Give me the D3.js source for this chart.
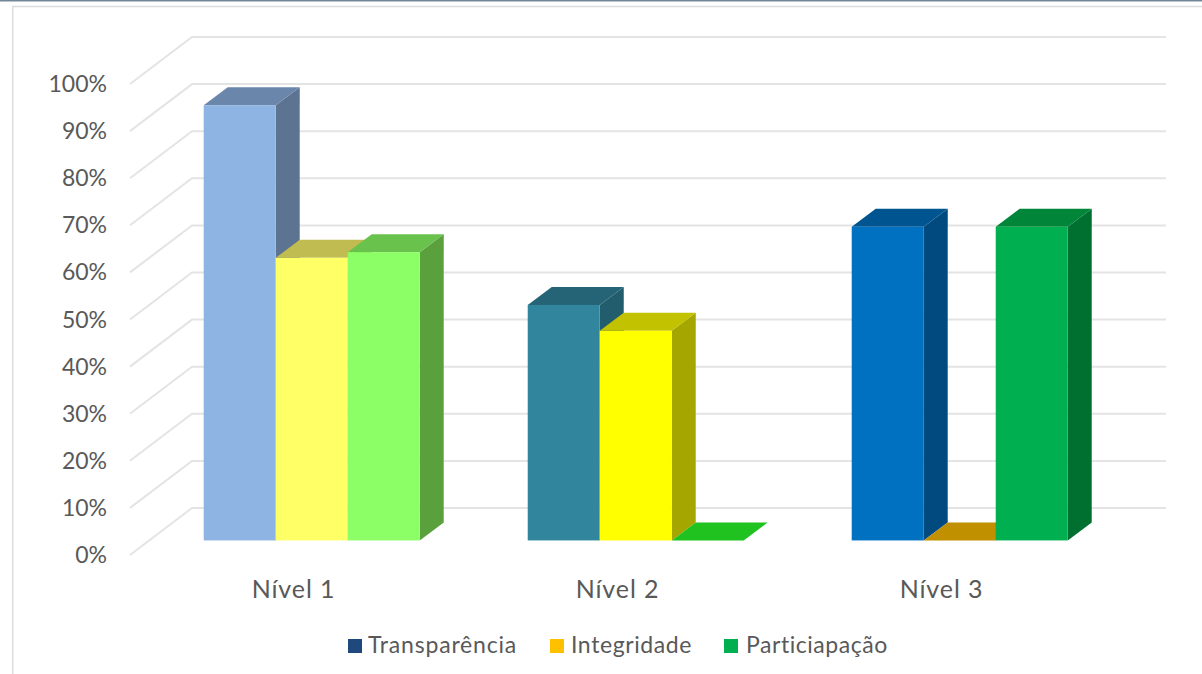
<!DOCTYPE html>
<html>
<head>
<meta charset="utf-8">
<script src="https://cdn.jsdelivr.net/npm/d3@7"></script>
<style>
  html, body { margin: 0; padding: 0; background: #fff; }
  svg { display: block; }
  text { font-family: Lato, "Open Sans", sans-serif; fill: #595959; }
</style>
</head>
<body>
<section></section>
<script>
//Chart data
const levels = ["Nível 1", "Nível 2", "Nível 3"];
const series = ["Transparência", "Integridade", "Particiapação"];
const transparencia = [92.4, 50, 66.6];
const integridade = [60, 44.5, 0];
const participacao = [61.2, 0, 66.6];
const yTicks = [0, 10, 20, 30, 40, 50, 60, 70, 80, 90, 100];

//Colors, one row per level
const legendColors = ["#1f497d", "#ffc000", "#00b050"];
const frontColors = [
  ["#8db4e2", "#ffff66", "#8cff66"],
  ["#31859c", "#ffff00", "#1fc21f"],
  ["#0070c0", "#c09000", "#00b050"],
];
const topColors = [
  ["#6a86ab", "#c1bc51", "#69c24c"],
  ["#256476", "#c2c200", "#1fc21f"],
  ["#005591", "#c09000", "#008539"],
];
const sideColors = [
  ["#5c7391", "#a6a33f", "#5aa03c"],
  ["#225d6d", "#a6a600", "#1fc21f"],
  ["#004a80", "#c09000", "#007030"],
];

const w = 1202;
const h = 674;

//Front edge of the floor, and how far the back wall is shifted from it
const left = 130;
const right = 1102;
const yBottom = 555;
const yTop = 84;
const wallDx = 62;
const wallDy = 47;

//Bars stand in the middle of the floor depth
const barFront = 0.31;
const barDx = 24;
const barDy = 18;

const values = [transparencia, integridade, participacao];

const svg = d3.select("section").append("svg").attr("width", w).attr("height", h);

const xScale = d3.scaleBand().domain(levels).range([left, right]);
const barScale = d3
  .scaleBand()
  .domain(series)
  .range([0, xScale.bandwidth()])
  .paddingInner(0)
  .paddingOuter(0.75);
const yScale = d3.scaleLinear().domain([0, 100]).range([yBottom, yTop]);

//Chart frame
svg.append("rect").attr("width", w).attr("height", 1.5).attr("fill", "#72879a");
svg
  .append("path")
  .attr("d", d3.line()([[12.7, h], [12.7, 6.5], [w, 6.5]]))
  .attr("fill", "none")
  .attr("stroke", "#dcdcdc")
  .attr("stroke-width", 1.5);

//Gridlines on the side wall and back wall
const grid = svg.append("g").attr("fill", "none").attr("stroke", "#e4e4e4").attr("stroke-width", 2);
grid
  .selectAll("path")
  .data(yTicks)
  .enter()
  .append("path")
  .attr("d", (d) =>
    d3.line()([
      [left, yScale(d)],
      [left + wallDx, yScale(d) - wallDy],
      [right + wallDx + 2, yScale(d) - wallDy],
    ])
  );

//Bars
const barData = [];
levels.forEach((level, i) => {
  series.forEach((name, j) => {
    barData.push({ level, name, i, j, value: values[j][i] });
  });
});

const bars = svg
  .append("g")
  .selectAll("g")
  .data(barData)
  .enter()
  .append("g")
  .attr(
    "transform",
    `translate(${wallDx * barFront + 0.5}, ${-wallDy * barFront})`
  );

const x0 = (d) => xScale(d.level) + barScale(d.name);
const x1 = (d) => x0(d) + barScale.bandwidth();
const poly = (points) => d3.line()(points) + "Z";

bars
  .filter((d) => d.value > 0)
  .append("path")
  .attr("fill", (d) => sideColors[d.i][d.j])
  .attr("d", (d) =>
    poly([
      [x1(d), yScale(d.value)],
      [x1(d) + barDx, yScale(d.value) - barDy],
      [x1(d) + barDx, yScale(0) - barDy],
      [x1(d), yScale(0)],
    ])
  );

bars
  .append("path")
  .attr("fill", (d) => topColors[d.i][d.j])
  .attr("d", (d) =>
    poly([
      [x0(d), yScale(d.value)],
      [x0(d) + barDx, yScale(d.value) - barDy],
      [x1(d) + barDx, yScale(d.value) - barDy],
      [x1(d), yScale(d.value)],
    ])
  );

bars
  .filter((d) => d.value > 0)
  .append("rect")
  .attr("fill", (d) => frontColors[d.i][d.j])
  .attr("x", x0)
  .attr("y", (d) => yScale(d.value))
  .attr("width", barScale.bandwidth())
  .attr("height", (d) => yScale(0) - yScale(d.value));

//y Axis
svg
  .append("g")
  .attr("transform", "translate(107, 0)")
  .call(
    d3
      .axisLeft(yScale)
      .tickValues(yTicks)
      .tickFormat((d) => d + "%")
      .tickSize(0)
      .tickPadding(0)
  )
  .call((g) => g.select(".domain").remove())
  .call((g) => g.selectAll("text").attr("font-size", 23).attr("dy", "0.33em"));

//x Axis
svg
  .append("g")
  .attr("transform", "translate(1.5, 580)")
  .call(d3.axisBottom(xScale).tickSize(0).tickPadding(0))
  .call((g) => g.select(".domain").remove())
  .call((g) =>
    g.selectAll("text").attr("font-size", 25).attr("dy", "0.71em").attr("letter-spacing", 0.9)
  );

//Legend
const legendX = d3.scaleOrdinal().domain(series).range([348, 550, 724]);
const legendSpacing = [0.8, 0.6, 0.55];
const legend = svg
  .append("g")
  .selectAll("g")
  .data(series)
  .enter()
  .append("g")
  .attr("transform", (d) => `translate(${legendX(d)}, 639)`);

legend
  .append("rect")
  .attr("width", 14)
  .attr("height", 14)
  .attr("fill", (d, i) => legendColors[i]);

legend
  .append("text")
  .attr("x", (d, i) => 20 + i)
  .attr("y", 13.5)
  .attr("font-size", 23)
  .attr("letter-spacing", (d, i) => legendSpacing[i])
  .text((d) => d);
</script>
</body>
</html>
